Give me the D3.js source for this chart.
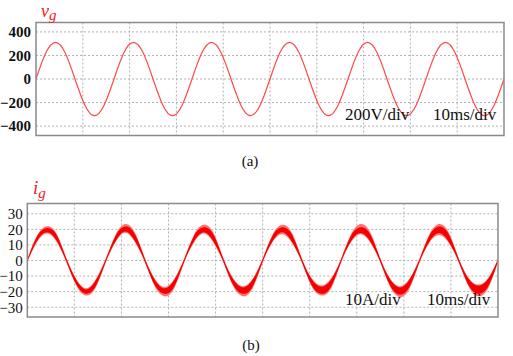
<!DOCTYPE html>
<html><head><meta charset="utf-8">
<script src="https://cdn.jsdelivr.net/npm/d3@7"></script>
<style>body{margin:0;background:#fff}svg{display:block}</style>
</head><body><svg id="c" width="513" height="356"></svg>
<script>
const timeMs = [0,2.08,4.17,6.25,8.33,10.42,12.5,14.58,16.67,18.75,20.83,22.92,25,27.08,29.17,31.25,33.33,35.42,37.5,39.58,41.67,43.75,45.83,47.92,50,52.08,54.17,56.25,58.33,60.42,62.5,64.58,66.67,68.75,70.83,72.92,75,77.08,79.17,81.25,83.33,85.42,87.5,89.58,91.67,93.75,95.83,97.92,100];
const vgValues = [0,220,311,220,0,-220,-311,-220, 0,220,311,220,0,-220,-311,-220, 0,220,311,220,0,-220,-311,-220, 0,220,311,220,0,-220,-311,-220, 0,220,311,220,0,-220,-311,-220, 0,220,311,220,0,-220,-311,-220, 0];
const igCoreHi = [0.5,15.4,20.8,16.2,0.9,-12.6,-18.6,-12.6, 0.8,15.8,21.8,16.5,0.9,-12.3,-17.8,-12.3, 0.8,15.8,21.3,16.5,0.9,-12.1,-17.3,-12.1, 0.8,15.8,21.3,16.5,0.9,-12,-16.8,-12, 0.8,15.8,21.3,16.6,0.9,-12.1,-17.3,-12, 0.8,15.9,21.8,16.6,0.9,-11.8,-16.3,-11.8, 0.7];
const igCoreLo = [-0.5,12.6,18.2,12.6,-0.9,-15.4,-21.3,-16.2, -0.8,12.4,18.6,12.2,-0.9,-15.8,-21.4,-16.5, -0.8,12.3,18.1,12,-0.9,-15.8,-21.4,-16.5, -0.8,12.3,18.1,11.9,-0.9,-15.9,-21.4,-16.5, -0.8,12.2,17.6,11.9,-0.9,-16,-21.9,-16.6, -0.8,12.1,17.6,11.7,-0.9,-15.9,-21.4,-16.6, -0.7];
const igHaloHi = [1,16.2,22,17.2,1.4,-11.9,-17.8,-11.9, 1.4,16.6,23.4,17.6,1.4,-11.7,-17,-11.7, 1.4,16.6,22.9,17.6,1.4,-11.5,-16.5,-11.5, 1.4,16.6,22.9,17.6,1.4,-11.4,-16,-11.4, 1.4,16.7,23.4,17.8,1.4,-11.5,-16.5,-11.4, 1.4,16.8,23.4,17.8,1.4,-11.2,-15.5,-11.2, 1];
const igHaloLo = [-1,11.9,17.4,11.9,-1.4,-16.2,-22.5,-17.2, -1.4,11.7,17.8,11.5,-1.4,-16.6,-23,-17.6, -1.4,11.6,17.3,11.3,-1.4,-16.6,-23,-17.6, -1.4,11.6,16.8,11.2,-1.4,-16.7,-22.5,-17.6, -1.4,11.5,16.8,11.2,-1.4,-16.8,-23.4,-17.8, -1.4,11.4,16.3,11,-1.4,-16.7,-23,-17.8, -1];
const vgTicks = [400,200,0,-200,-400];
const igTicks = [30,20,10,0,-10,-20,-30];
const timeGrid = [10,20,30,40,50,60,70,80,90];

const svg = d3.select("#c");
const serif = "Liberation Serif, Times New Roman, serif";

function panel(o){
  const x = d3.scaleLinear().domain([0,100]).range([o.left,o.right]);
  const y = d3.scaleLinear().domain(o.ydom).range([o.bottom,o.top]);
  const g = svg.append("g");
  g.selectAll(".hg").data(o.ticks).enter().append("line")
    .attr("x1",o.left).attr("x2",o.right).attr("y1",d=>y(d)).attr("y2",d=>y(d))
    .attr("stroke","#b0b0b0").attr("stroke-dasharray","2,2").attr("stroke-width",1);
  g.selectAll(".vg").data(timeGrid).enter().append("line")
    .attr("x1",d=>x(d)).attr("x2",d=>x(d)).attr("y1",o.top).attr("y2",o.bottom)
    .attr("stroke","#b0b0b0").attr("stroke-dasharray","2,2").attr("stroke-width",1);
  const ax = g.append("g").attr("transform",`translate(${o.left},0)`)
    .call(d3.axisLeft(y).tickValues(o.ticks).tickSize(0).tickPadding(o.pad));
  ax.attr("font-family",null).attr("font-size",null);
  ax.select(".domain").remove();
  ax.selectAll("text").style("font-family",serif).style("font-size",o.fs+"px")
    .style("font-weight",o.fw).attr("fill","#111");
  o.draw(g,x,y);
  g.append("rect").attr("x",o.left).attr("y",o.top)
    .attr("width",o.right-o.left).attr("height",o.bottom-o.top)
    .attr("fill","none").attr("stroke","#8a8a8a").attr("stroke-width",1.5);
  o.texts.forEach(t=>g.append("text").attr("x",t[0]).attr("y",t[1]).text(t[2])
    .style("font-family",serif).style("font-size","17px").attr("fill","#111"));
  return {x,y};
}

panel({left:36,right:504,top:22.5,bottom:135.5,ydom:[-480,480],ticks:vgTicks,pad:5,fs:15,fw:"bold",
  texts:[[345,120,"200V/div"],[433,120,"10ms/div"]],
  draw:(g,x,y)=>{
    const line = d3.line().x((d,i)=>x(timeMs[i])).y(d=>y(d)).curve(d3.curveNatural);
    g.append("path").attr("d",line(vgValues)).attr("fill","none")
      .attr("stroke","#ff4a4a").attr("stroke-width",1.2);
  }});

panel({left:27.3,right:498,top:203.5,bottom:317,ydom:[-36.3,36.6],ticks:igTicks,pad:4.5,fs:15,fw:"normal",
  texts:[[345,305,"10A/div"],[427,305,"10ms/div"]],
  draw:(g,x,y)=>{
    const area=(hi,lo)=>d3.area().x((d,i)=>x(timeMs[i])).y0((d,i)=>y(lo[i])).y1((d,i)=>y(hi[i])).curve(d3.curveNatural)(timeMs);
    g.append("path").attr("d",area(igHaloHi,igHaloLo)).attr("fill","#ff7272");
    g.append("path").attr("d",area(igCoreHi,igCoreLo)).attr("fill","#f40000");
  }});

const t1 = svg.append("text").attr("x",41).attr("y",17).style("font-family",serif)
  .style("font-style","italic").attr("fill","#ee2222").style("font-size","18px");
t1.append("tspan").text("v");
t1.append("tspan").text("g").style("font-size","15px").attr("dy",3);
const t2 = svg.append("text").attr("x",33).attr("y",194).style("font-family",serif)
  .style("font-style","italic").attr("fill","#ee2222").style("font-size","19px");
t2.append("tspan").text("i");
t2.append("tspan").text("g").style("font-size","15px").attr("dy",4);

svg.append("text").attr("x",250).attr("y",166).attr("text-anchor","middle")
  .style("font-family",serif).style("font-size","15px").attr("fill","#111").text("(a)");
svg.append("text").attr("x",251).attr("y",350).attr("text-anchor","middle")
  .style("font-family",serif).style("font-size","15px").attr("fill","#111").text("(b)");
</script></body></html>
